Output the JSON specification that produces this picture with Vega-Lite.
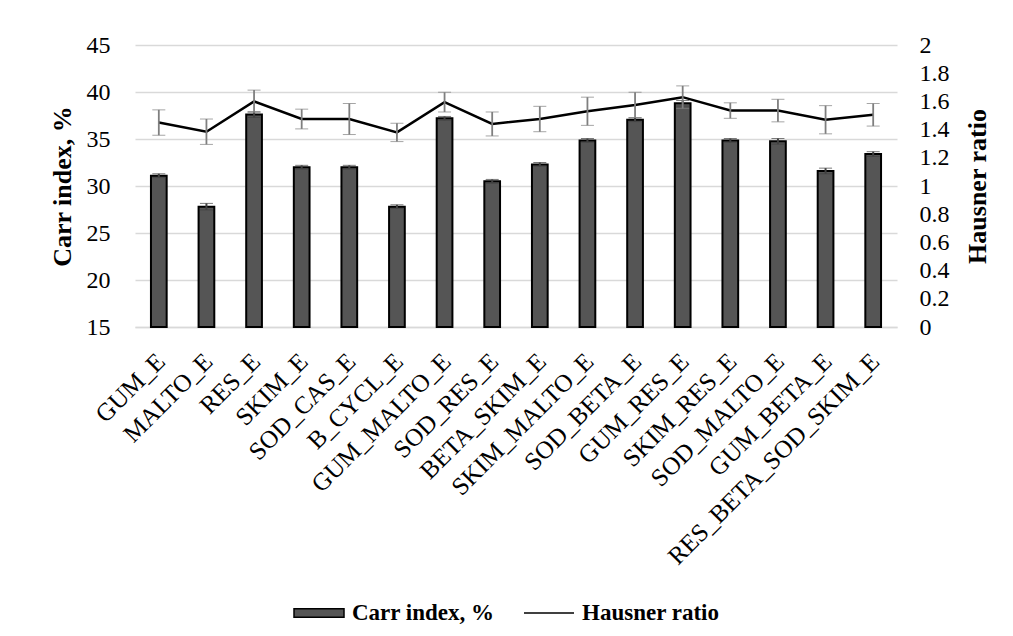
{
  "$schema": "https://vega.github.io/schema/vega-lite/v6.json",
  "autosize": "none",
  "padding": {"left": 135, "top": 45, "right": 116, "bottom": 309},
  "width": 762,
  "height": 282,
  "background": "white",
  "config": {
    "font": "Liberation Serif",
    "view": {"stroke": null},
    "axis": {"labelFont": "Liberation Serif", "titleFont": "Liberation Serif", "labelColor": "black", "titleColor": "black", "labelOverlap": false}
  },
  "data": {
    "values": [
      {"sample": "GUM_E", "carr": 31.1, "carrErr": 0.2, "hausner": 1.45, "hausnerErr": 0.09},
      {"sample": "MALTO_E", "carr": 27.8, "carrErr": 0.35, "hausner": 1.385, "hausnerErr": 0.09},
      {"sample": "RES_E", "carr": 37.6, "carrErr": 0.3, "hausner": 1.6, "hausnerErr": 0.08},
      {"sample": "SKIM_E", "carr": 32.0, "carrErr": 0.2, "hausner": 1.475, "hausnerErr": 0.07},
      {"sample": "SOD_CAS_E", "carr": 32.0, "carrErr": 0.2, "hausner": 1.475, "hausnerErr": 0.11},
      {"sample": "B_CYCL_E", "carr": 27.8, "carrErr": 0.2, "hausner": 1.38, "hausnerErr": 0.065},
      {"sample": "GUM_MALTO_E", "carr": 37.2, "carrErr": 0.2, "hausner": 1.595, "hausnerErr": 0.07},
      {"sample": "SOD_RES_E", "carr": 30.5, "carrErr": 0.2, "hausner": 1.44, "hausnerErr": 0.085},
      {"sample": "BETA_SKIM_E", "carr": 32.3, "carrErr": 0.2, "hausner": 1.475, "hausnerErr": 0.09},
      {"sample": "SKIM_MALTO_E", "carr": 34.85, "carrErr": 0.2, "hausner": 1.53, "hausnerErr": 0.1},
      {"sample": "SOD_BETA_E", "carr": 37.05, "carrErr": 0.2, "hausner": 1.575, "hausnerErr": 0.09},
      {"sample": "GUM_RES_E", "carr": 38.8, "carrErr": 0.3, "hausner": 1.63, "hausnerErr": 0.08},
      {"sample": "SKIM_RES_E", "carr": 34.85, "carrErr": 0.2, "hausner": 1.535, "hausnerErr": 0.055},
      {"sample": "SOD_MALTO_E", "carr": 34.75, "carrErr": 0.3, "hausner": 1.535, "hausnerErr": 0.08},
      {"sample": "GUM_BETA_E", "carr": 31.6, "carrErr": 0.3, "hausner": 1.47, "hausnerErr": 0.1},
      {"sample": "RES_BETA_SOD_SKIM_E", "carr": 33.4, "carrErr": 0.25, "hausner": 1.505, "hausnerErr": 0.08}
    ]
  },
  "encoding": {
    "x": {
      "field": "sample",
      "type": "nominal",
      "sort": null,
      "scale": {"paddingInner": 0.67, "paddingOuter": 0.335},
      "axis": {
        "title": null,
        "labelAngle": -45,
        "labelAlign": "right",
        "labelBaseline": "middle",
        "labelFontSize": 25,
        "labelPadding": 30,
        "labelOffset": 2,
        "ticks": false,
        "tickSize": 0,
        "domainColor": "#d9d9d9",
        "domainWidth": 1.5,
        "grid": false,
        "labelOverlap": false,
        "labelLimit": 500
      }
    }
  },
  "layer": [
    {
      "layer": [
        {
          "mark": {"type": "bar", "color": "#555555", "stroke": "black", "strokeWidth": 2},
          "encoding": {
            "y": {
              "field": "carr",
              "type": "quantitative",
              "title": "Carr index, %",
              "scale": {"domain": [15, 45], "nice": false, "zero": false},
              "axis": {
                "orient": "left",
                "values": [15, 20, 25, 30, 35, 40, 45],
                "tickCount": 7,
                "labelFontSize": 24,
                "labelPadding": 25,
                "ticks": false,
                "tickSize": 0,
                "domain": false,
                "grid": true,
                "gridColor": "#d9d9d9",
                "gridWidth": 1.5,
                "titleFontSize": 26,
                "titleFontWeight": "bold",
                "titleAngle": 270,
                "titleAlign": "center",
                "titleBaseline": "middle",
                "titleX": -73,
                "titleY": 141
              }
            },
            "y2": {"datum": 15}
          }
        },
        {
          "mark": {"type": "errorbar", "ticks": {"size": 13, "color": "#404040", "strokeWidth": 2}, "rule": {"color": "#404040", "strokeWidth": 2}},
          "encoding": {
            "y": {"field": "carr", "type": "quantitative", "title": "Carr index, %"},
            "yError": {"field": "carrErr"}
          }
        }
      ]
    },
    {
      "layer": [
        {
          "mark": {"type": "line", "color": "black", "strokeWidth": 2.5},
          "encoding": {
            "y": {
              "field": "hausner",
              "type": "quantitative",
              "title": "Hausner ratio",
              "scale": {"domain": [0, 2], "nice": false},
              "axis": {
                "orient": "right",
                "values": [0, 0.2, 0.4, 0.6, 0.8, 1, 1.2, 1.4, 1.6, 1.8, 2],
                "tickCount": 11,
                "format": ".1~f",
                "labelFontSize": 24,
                "labelPadding": 22,
                "labelOverlap": false,
                "ticks": false,
                "tickSize": 0,
                "domain": false,
                "grid": false,
                "titleFontSize": 26,
                "titleFontWeight": "bold",
                "titleAngle": 270,
                "titleAlign": "center",
                "titleBaseline": "middle",
                "titleX": 80,
                "titleY": 141
              }
            }
          }
        },
        {
          "mark": {"type": "errorbar", "ticks": {"size": 13, "color": "#7f7f7f", "strokeWidth": 1.8}, "rule": {"color": "#7f7f7f", "strokeWidth": 1.8}},
          "encoding": {
            "y": {"field": "hausner", "type": "quantitative", "title": "Hausner ratio"},
            "yError": {"field": "hausnerErr"}
          }
        },
        {
          "mark": {"type": "point", "filled": true, "color": "#555555", "stroke": "black", "strokeWidth": 2.5, "size": 0},
          "encoding": {
            "y": {"field": "hausner", "type": "quantitative", "title": "Hausner ratio"},
            "shape": {
              "datum": "Carr index, %",
              "scale": {"domain": ["Carr index, %", "Hausner ratio"], "range": ["M-1,-0.17H1V0.17H-1Z", "M-1,0H1"]},
              "legend": {
                "orient": "none",
                "legendX": 158,
                "legendY": 542,
                "direction": "horizontal",
                "title": null,
                "symbolSize": 2500,
                "symbolOpacity": 1,
                "labelFont": "Liberation Serif",
                "labelFontSize": 23,
                "labelFontWeight": "bold",
                "labelColor": "black",
                "labelOffset": 7,
                "columnPadding": 26
              }
            }
          }
        },
        {
          "mark": {"type": "point", "filled": true, "color": "#555555", "stroke": "black", "strokeWidth": 2.5, "size": 0},
          "encoding": {
            "y": {"field": "hausner", "type": "quantitative", "title": "Hausner ratio"},
            "shape": {"datum": "Hausner ratio"}
          }
        }
      ]
    }
  ],
  "resolve": {"scale": {"y": "independent"}}
}
